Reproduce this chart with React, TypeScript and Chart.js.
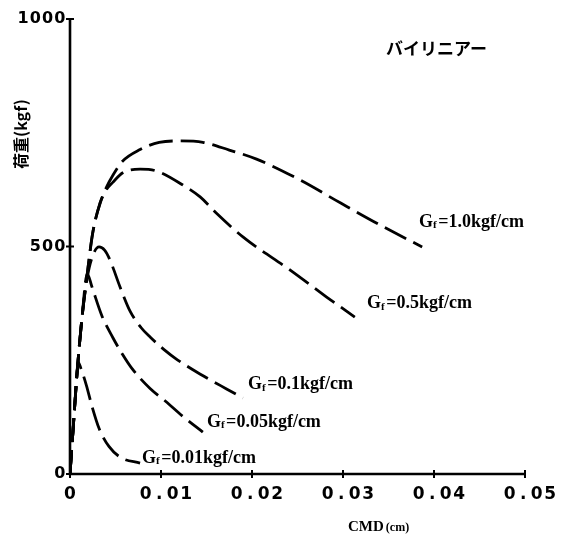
import { useEffect, useRef } from "react";
import { Chart, registerables } from "chart.js";

Chart.register(...registerables);

// ---- axis ticks ----
const xTicks = [0, 0.01, 0.02, 0.03, 0.04, 0.05];
const xTickLabels = ["0", "0.01", "0.02", "0.03", "0.04", "0.05"];
const yTicks = [0, 500, 1000];
const yTickLabels = ["0", "500", "1000"];

// ---- series (CMD in cm, load in kgf) ----
const gf10X = [0, 0.0004, 0.0008, 0.0013, 0.0019, 0.0025, 0.0033, 0.004, 0.0047, 0.0057, 0.0077, 0.0098, 0.012, 0.0146, 0.0175, 0.0205, 0.0253, 0.0297, 0.0341, 0.0387];
const gf10Y = [0, 115, 228, 340, 441, 530, 595, 630, 656, 686, 713, 729, 732, 729, 712, 692, 646, 596, 547, 499];

const gf05X = [0, 0.0004, 0.0008, 0.0013, 0.0019, 0.0025, 0.0033, 0.004, 0.0047, 0.0058, 0.0077, 0.0093, 0.0124, 0.0143, 0.0161, 0.019, 0.0242, 0.0282, 0.0313];
const gf05Y = [0, 115, 228, 340, 441, 530, 595, 625, 641, 662, 670, 667, 635, 609, 573, 521, 448, 389, 345];

const gf01X = [0, 0.0004, 0.0008, 0.0013, 0.0019, 0.0025, 0.0032, 0.0038, 0.0044, 0.0055, 0.0066, 0.0078, 0.0088, 0.0103, 0.0118, 0.0136, 0.0154, 0.0172, 0.019];
const gf01Y = [0, 115, 228, 340, 432, 480, 499, 492, 470, 411, 358, 322, 301, 274, 251, 228, 207, 187, 167];

const gf005X = [0, 0.0004, 0.0008, 0.0013, 0.0019, 0.0024, 0.0035, 0.0047, 0.0058, 0.0068, 0.0088, 0.0105, 0.0125, 0.0146];
const gf005Y = [0, 115, 228, 340, 440, 412, 348, 300, 262, 232, 188, 160, 125, 92];

const gf001X = [0, 0.0004, 0.0007, 0.0009, 0.0012, 0.0018, 0.0024, 0.0032, 0.0043, 0.0056, 0.0077];
const gf001Y = [0, 115, 205, 246, 232, 195, 150, 100, 60, 36, 24];

// ---- labels ----
const gfValues = ["1.0", "0.5", "0.1", "0.05", "0.01"];
const gfLabelX = [0.03835, 0.03264, 0.01956, 0.01505, 0.00791];
const gfLabelY = [554, 374, 196, 114, 35];
const modelName = "バイリニアー";
const modelLabelX = 0.03473;
const modelLabelY = 934;
const xTitle = ["CMD", "(cm)"];
const yTitle = "荷重(kgf)";

function toPts(xs: number[], ys: number[]) {
  return xs.map((x, i) => ({ x, y: ys[i] }));
}

function drawPitched(ctx: CanvasRenderingContext2D, text: string, start: number, y: number, pitch: number) {
  ctx.textAlign = "center";
  for (let i = 0; i < text.length; i++) {
    ctx.fillText(text[i], start + pitch * (i + 0.5), y);
  }
}

const decorPlugin = {
  id: "decor",
  afterDraw(chart: any) {
    const ctx: CanvasRenderingContext2D = chart.ctx;
    const xs = chart.scales.x;
    const ys = chart.scales.y;
    const { left, right, top, bottom } = chart.chartArea;
    ctx.save();
    ctx.strokeStyle = "#000";
    ctx.fillStyle = "#000";
    // axis lines
    ctx.lineWidth = 2.6;
    ctx.beginPath();
    ctx.moveTo(left, top - 1);
    ctx.lineTo(left, bottom);
    ctx.lineTo(right, bottom);
    ctx.stroke();
    // tick marks
    ctx.lineWidth = 2;
    xTicks.forEach((v) => {
      const px = xs.getPixelForValue(v);
      ctx.beginPath();
      ctx.moveTo(px, bottom - 4);
      ctx.lineTo(px, bottom + 4);
      ctx.stroke();
    });
    yTicks.forEach((v) => {
      const py = ys.getPixelForValue(v);
      ctx.beginPath();
      ctx.moveTo(left - 4, py);
      ctx.lineTo(left + 4, py);
      ctx.stroke();
    });
    // tick labels
    ctx.font = "bold 17px 'DejaVu Sans', sans-serif";
    ctx.textBaseline = "middle";
    xTicks.forEach((v, i) => {
      const t = xTickLabels[i];
      const pitch = 13.5;
      const cx = xs.getPixelForValue(v) + (t.length > 1 ? 5 : 0);
      drawPitched(ctx, t, cx - (t.length * pitch) / 2, bottom + 21, pitch);
    });
    ctx.font = "bold 16px 'DejaVu Sans', sans-serif";
    yTicks.forEach((v, i) => {
      const t = yTickLabels[i];
      const pitch = 12.3;
      const py = ys.getPixelForValue(v);
      drawPitched(ctx, t, left - 4 - t.length * pitch, py, pitch);
    });
    // x title
    ctx.textBaseline = "middle";
    ctx.font = "bold 15px 'Liberation Serif', serif";
    ctx.textAlign = "left";
    ctx.fillText(xTitle[0], 348, bottom + 53);
    const w = ctx.measureText(xTitle[0]).width;
    ctx.font = "bold 12px 'Liberation Serif', serif";
    ctx.fillText(xTitle[1], 348 + w + 2, bottom + 54);
    // y title
    ctx.save();
    ctx.translate(21, 134);
    ctx.rotate(-Math.PI / 2);
    ctx.font = "bold 16px 'Noto Sans CJK JP', sans-serif";
    ctx.textAlign = "center";
    ctx.textBaseline = "middle";
    ctx.fillText(yTitle, 0, 0);
    ctx.restore();
    // model name
    ctx.font = "bold 17px 'Noto Sans CJK JP', sans-serif";
    ctx.textAlign = "left";
    ctx.textBaseline = "middle";
    ctx.fillText(modelName, xs.getPixelForValue(modelLabelX), ys.getPixelForValue(modelLabelY));
    // Gf labels
    gfValues.forEach((val, i) => {
      let x = xs.getPixelForValue(gfLabelX[i]);
      const y = ys.getPixelForValue(gfLabelY[i]);
      ctx.textAlign = "left";
      ctx.textBaseline = "middle";
      ctx.font = "bold 18px 'Liberation Serif', serif";
      ctx.fillText("G", x, y);
      x += ctx.measureText("G").width;
      ctx.font = "bold 11px 'Liberation Serif', serif";
      ctx.fillText("f", x, y + 3);
      x += ctx.measureText("f").width + 1.5;
      ctx.font = "bold 18px 'Liberation Serif', serif";
      ctx.fillText("=" + val + "kgf/cm", x, y);
    });
    ctx.restore();
  },
};

export default function App() {
  const ref = useRef<HTMLCanvasElement | null>(null);
  useEffect(() => {
    if (!ref.current) return;
    const common = {
      borderColor: "#000",
      backgroundColor: "#000",
      borderWidth: 2.8,
      borderDash: [24, 8],
      pointRadius: 0,
      showLine: true,
      fill: false,
      cubicInterpolationMode: "monotone" as const,
    };
    const chart = new Chart(ref.current, {
      type: "scatter",
      data: {
        datasets: [
          { label: "Gf=1.0kgf/cm", data: toPts(gf10X, gf10Y), ...common },
          { label: "Gf=0.5kgf/cm", data: toPts(gf05X, gf05Y), ...common },
          { label: "Gf=0.1kgf/cm", data: toPts(gf01X, gf01Y), ...common },
          { label: "Gf=0.05kgf/cm", data: toPts(gf005X, gf005Y), ...common },
          { label: "Gf=0.01kgf/cm", data: toPts(gf001X, gf001Y), ...common },
        ],
      },
      options: {
        animation: false,
        responsive: false,
        devicePixelRatio: 1,
        layout: { padding: { left: 70, right: 39, top: 19, bottom: 64 } },
        plugins: { legend: { display: false }, tooltip: { enabled: false } },
        scales: {
          x: { type: "linear", min: 0, max: 0.05, display: false },
          y: { type: "linear", min: 0, max: 1000, display: false },
        },
      },
      plugins: [decorPlugin],
    });
    return () => chart.destroy();
  }, []);
  return (
    <div style={{ position: "fixed", left: 0, top: 0, width: 564, height: 538, background: "#fff" }}>
      <canvas ref={ref} width={564} height={538} style={{ display: "block" }} />
    </div>
  );
}
